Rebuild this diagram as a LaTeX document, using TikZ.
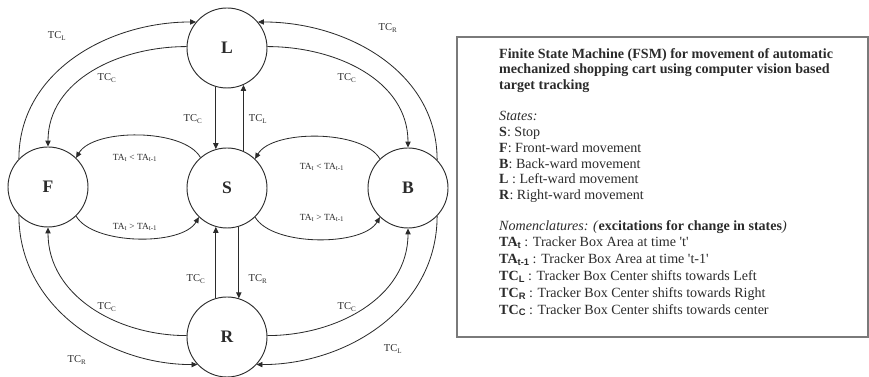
\documentclass[tikz,border=0pt]{standalone}
\usepackage{fontspec}
\setmainfont{Liberation Serif}
\newfontfamily\subfont{Liberation Sans}
\usetikzlibrary{arrows.meta}
\definecolor{fsmink}{HTML}{2B2B2B}
\definecolor{fsmframe}{HTML}{7A7A7A}
\newcommand{\tcsub}[1]{TC\textsubscript{#1}}
\newcommand{\legsub}[2]{\textbf{#1}\raisebox{-0.3ex}{\subfont\bfseries\footnotesize #2}}

\begin{document}
\begin{tikzpicture}[
  x=0.03cm,
  y=0.03cm,
  every node/.style={fsmink},
  state/.style={circle, draw=fsmink, line width=0.8pt, minimum size=2.4cm,
                inner sep=0pt, font=\fontsize{15}{18}\selectfont\bfseries},
  edge/.style={fsmink, line width=0.7pt, -{Triangle[length=5pt, width=4.5pt]}},
  lbl/.style={font=\fontsize{9}{10}\selectfont, inner sep=1pt},
  talbl/.style={font=\fontsize{8}{9}\selectfont, inner sep=1pt},
  legend/.style={draw=fsmframe, line width=1.2pt}
]
  % ---- page frame --------------------------------------------------------
  \useasboundingbox (0,0) rectangle (869,377);

  % ---- states ------------------------------------------------------------
  \node[state] (L) at (227,329) {L};
  \node[state] (F) at (48,190)  {F};
  \node[state] (S) at (227,189) {S};
  \node[state] (B) at (408,189) {B};
  \node[state] (R) at (227,40)  {R};

  % ---- upper arcs round L ------------------------------------------------
  \draw[edge] (F.136) to[out=90, in=180] (L.140);
  \draw[edge] (L.178) to[out=180, in=90] (F.90);
  \draw[edge] (B.44) to[out=90, in=0] (L.40);
  \draw[edge] (L.2) to[out=0, in=90] (B.90);
  \node[lbl] (lFL) at (57,341)  {\tcsub{L}};
  \node[lbl] (lLF) at (107,299) {\tcsub{C}};
  \node[lbl] (lBL) at (388,349) {\tcsub{R}};
  \node[lbl] (lLB) at (347,299) {\tcsub{C}};

  % ---- L and S -----------------------------------------------------------
  \draw[edge] (L.254) -- (S.106);
  \draw[edge] (S.66) -- (L.294);
  \node[lbl] (lLS) at (193,258) {\tcsub{C}};
  \node[lbl] (lSL) at (258,258) {\tcsub{L}};

  % ---- area changes between F, S and B -----------------------------------
  \draw[edge] (S.131) to[out=120, in=60, looseness=0.7] (F.46);
  \draw[edge] (B.134) to[out=120, in=60, looseness=0.7] (S.46);
  \draw[edge] (F.-46) to[out=-60, in=-120, looseness=0.7] (S.226);
  \draw[edge] (S.-46) to[out=-60, in=-120, looseness=0.7] (B.226);
  \node[talbl] (lSF) at (135,219) {TA\textsubscript{t} < TA\textsubscript{t-1}};
  \node[talbl] (lBS) at (322,210) {TA\textsubscript{t} < TA\textsubscript{t-1}};
  \node[talbl] (lFS) at (135,150) {TA\textsubscript{t} > TA\textsubscript{t-1}};
  \node[talbl] (lSB) at (322,159) {TA\textsubscript{t} > TA\textsubscript{t-1}};

  % ---- S and R -----------------------------------------------------------
  \draw[edge] (R.106) -- (S.254);
  \draw[edge] (S.287) -- (R.73);
  \node[lbl] (lRS) at (196,98) {\tcsub{C}};
  \node[lbl] (lSR) at (258,98) {\tcsub{R}};

  % ---- lower arcs round R ------------------------------------------------
  \draw[edge] (R.178) to[out=180, in=-90] (F.-90);
  \draw[edge] (F.224) to[out=-90, in=180] (R.223);
  \draw[edge] (R.2) to[out=0, in=-90] (B.-90);
  \draw[edge] (B.-44) to[out=-90, in=0] (R.-43);
  \node[lbl] (lRF) at (107,70) {\tcsub{C}};
  \node[lbl] (lFR) at (77,17)  {\tcsub{R}};
  \node[lbl] (lRB) at (347,70) {\tcsub{C}};
  \node[lbl] (lBR) at (393,28) {\tcsub{L}};

  % ---- legend ------------------------------------------------------------
  \draw[legend] (457,340) rectangle (868,40);
  \node[anchor=north west, align=left, inner sep=0pt,
        font=\fontsize{12}{13.4}\selectfont] (legendtext) at (499,329) {%
    \textbf{Finite State Machine (FSM) for movement of automatic}\\
    \textbf{mechanized shopping cart using computer vision based}\\
    \textbf{target tracking}\\[13.4pt]
    \textit{States:}\\
    \textbf{S}: Stop\\
    \textbf{F}: Front-ward movement\\
    \textbf{B}: Back-ward movement\\
    \textbf{L} : Left-ward movement\\
    \textbf{R}: Right-ward movement\\[13.4pt]
    \textit{Nomenclatures: (}\textbf{excitations for change in states}\textit{)}\\
    \legsub{TA}{t} : Tracker Box Area at time \textquotesingle t\textquotesingle\\[1pt]
    \legsub{TA}{t-1} : Tracker Box Area at time \textquotesingle t-1\textquotesingle\\[1pt]
    \legsub{TC}{L} : Tracker Box Center shifts towards Left\\[1pt]
    \legsub{TC}{R} : Tracker Box Center shifts towards Right\\[1pt]
    \legsub{TC}{C} : Tracker Box Center shifts towards center};

\end{tikzpicture}
\end{document}
